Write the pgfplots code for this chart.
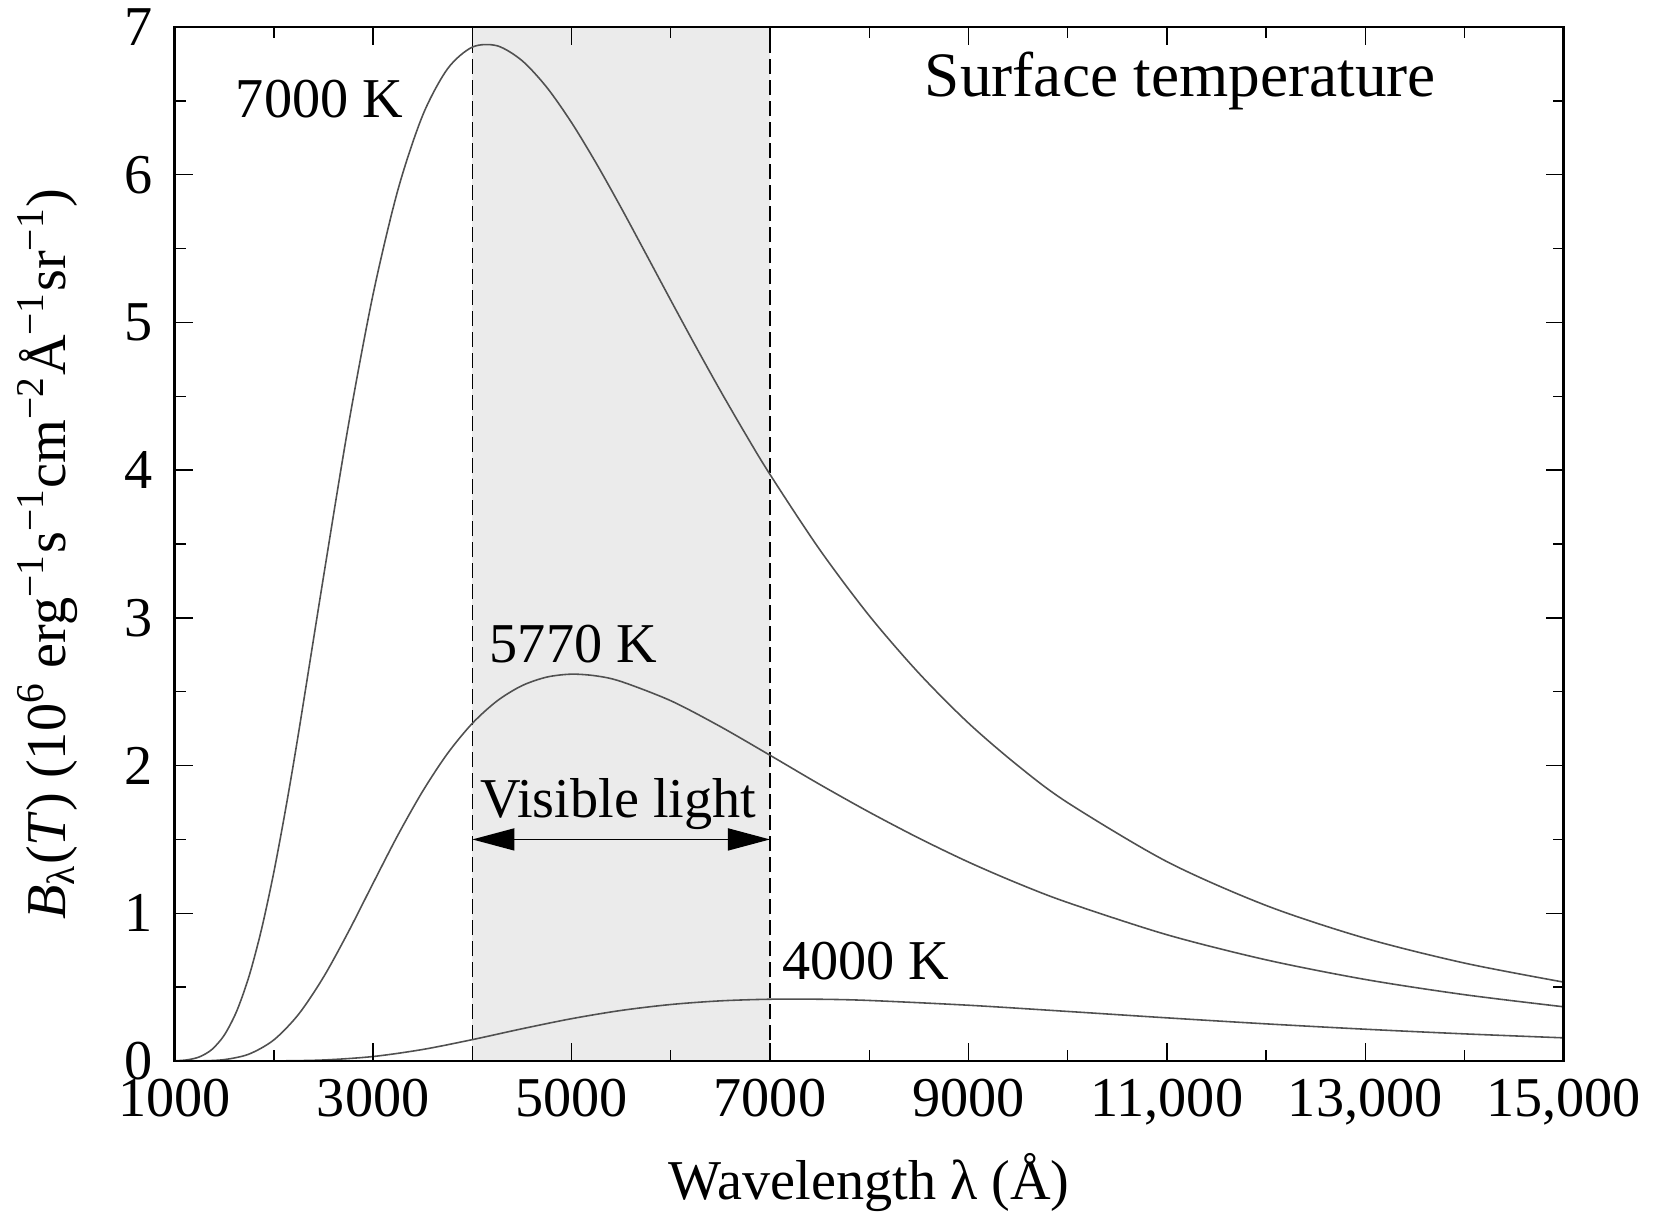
\documentclass[border=0pt]{standalone}
\usepackage{fontspec}
\setmainfont{Liberation Serif}
\usepackage{pgfplots}
\pgfplotsset{compat=1.18}
\usetikzlibrary{arrows.meta}
\definecolor{visgray}{HTML}{EBEBEB}
\definecolor{curve}{HTML}{505050}
\begin{document}
\begin{tikzpicture}
\path[use as bounding box] (-17.47mm,-15.4mm) rectangle (148.53mm,106.1mm);
\begin{axis}[
  at={(0,0)}, anchor=south west,
  scale only axis, width=138.9mm, height=103.4mm,
  xmin=1000, xmax=15000, ymin=0, ymax=7,
  scaled x ticks=false,
  xtick={1000,3000,...,15000},
  xticklabels={1000,3000,5000,7000,9000,{11,000},{13,000},{15,000}},
  minor xtick={2000,4000,...,14000},
  ytick={0,1,...,7},
  minor ytick={0.5,1.5,...,6.5},
  tick align=inside,
  xtick pos=both, ytick pos=both,
  major tick length=1.8mm, minor tick length=1.1mm,
  axis line style={line width=0.8pt},
  every tick/.style={black, line width=0.4pt},
  tick label style={font=\fontsize{16}{19}\selectfont},
  xticklabel style={yshift=-0.6mm},
  yticklabel style={xshift=-1mm},
  /pgf/number format/assume math mode=true,
  label style={font=\fontsize{16}{19}\selectfont},
  xlabel={Wavelength λ (Å)},
  ylabel={\textit{B}\textsubscript{λ}(\textit{T}) (10\textsuperscript{6} erg\textsuperscript{−1}s\textsuperscript{−1}cm\textsuperscript{−2}Å\textsuperscript{−1}sr\textsuperscript{−1})},
  xlabel style={at={(axis description cs:0.5,-0.118)}, anchor=center},
  ylabel style={at={(axis description cs:-0.0915,0.49)}, anchor=center},
  axis on top,
]
% visible band
\addplot[fill=visgray, draw=none] coordinates {(4000,0) (4000,7) (7000,7) (7000,0)} -- cycle;
\addplot[black, line width=0.45pt, dash pattern=on 1.5mm off 0.6mm] coordinates {(4000,0) (4000,7)};
\addplot[black, line width=0.45pt, dash pattern=on 1.5mm off 0.6mm] coordinates {(7000,0) (7000,7)};

% 7000 K
\addplot[curve, line width=0.45pt, smooth] coordinates {
(1000,0.0014) (1125,0.0077) (1250,0.0282) (1375,0.0781) (1500,0.1755) (1625,0.3377)
(1750,0.5754) (1875,0.8917) (2000,1.281) (2125,1.732) (2250,2.228)
(2500,3.279) (2750,4.301) (3000,5.192) (3250,5.898) (3500,6.403) (3750,6.717)
(4000,6.864) (4250,6.873) (4500,6.773) (4750,6.592) (5000,6.353) (5250,6.076)
(5500,5.776) (5750,5.464) (6000,5.150) (6250,4.840)
(6500,4.538) (6750,4.248) (7000,3.971) (7500,3.463) (8000,3.015) (8500,2.626) (9000,2.288)
(9500,1.999) (10000,1.749) (11000,1.350) (12000,1.053) (13000,0.831) (14000,0.663)
(15000,0.534)};

% 5770 K
\addplot[curve, line width=0.45pt, smooth] coordinates {
(1000,0.0000) (1250,0.0008) (1500,0.0095) (1750,0.0471) (2000,0.1432) (2250,0.3175)
(2500,0.5681) (2750,0.8736) (3000,1.204) (3250,1.530) (3500,1.827) (3750,2.082)
(4000,2.286) (4250,2.438) (4500,2.541) (4750,2.599) (5000,2.619) (5250,2.607)
(5500,2.569) (6000,2.439) (6500,2.264) (7000,2.070) (7500,1.873) (8000,1.685)
(8500,1.509) (9000,1.347) (9500,1.202) (10000,1.073) (11000,0.855) (12000,0.685)
(13000,0.552) (14000,0.449) (15000,0.367)};

% 4000 K
\addplot[curve, line width=0.45pt, smooth] coordinates {
(1000,0.0000) (1500,0.0000) (2000,0.0006) (2500,0.0069) (3000,0.0304) (3500,0.0781)
(4000,0.1447) (4500,0.2181) (5000,0.2865) (5500,0.3424) (6000,0.3825) (6500,0.4072)
(7000,0.4182) (7500,0.4181) (8000,0.4099) (9000,0.3776) (10000,0.3356) (11000,0.2922)
(12000,0.2515) (13000,0.2152) (14000,0.1837) (15000,0.1568)};

% visible light arrow
\addplot[black, line width=0.45pt, {Triangle[length=4.2mm,width=2.2mm]}-{Triangle[length=4.2mm,width=2.2mm]}] coordinates {(4000,1.5) (7000,1.5)};

\node[anchor=base, font=\fontsize{16}{19}\selectfont, inner sep=0pt] at (axis cs:5470,1.5) [yshift=2.2mm] {Visible light};
\node[anchor=base west, font=\fontsize{16}{19}\selectfont, inner sep=0pt] at (axis cs:1610,6.39) {7000 K};
\node[anchor=base west, font=\fontsize{16}{19}\selectfont, inner sep=0pt] at (axis cs:4169,2.70) {5770 K};
\node[anchor=base west, font=\fontsize{16}{19}\selectfont, inner sep=0pt] at (axis cs:7115,0.55) {4000 K};
\node[anchor=base west, font=\fontsize{18}{22}\selectfont, inner sep=0pt] at (axis cs:8555,6.53) {Surface temperature};
\end{axis}
\end{tikzpicture}
\end{document}
